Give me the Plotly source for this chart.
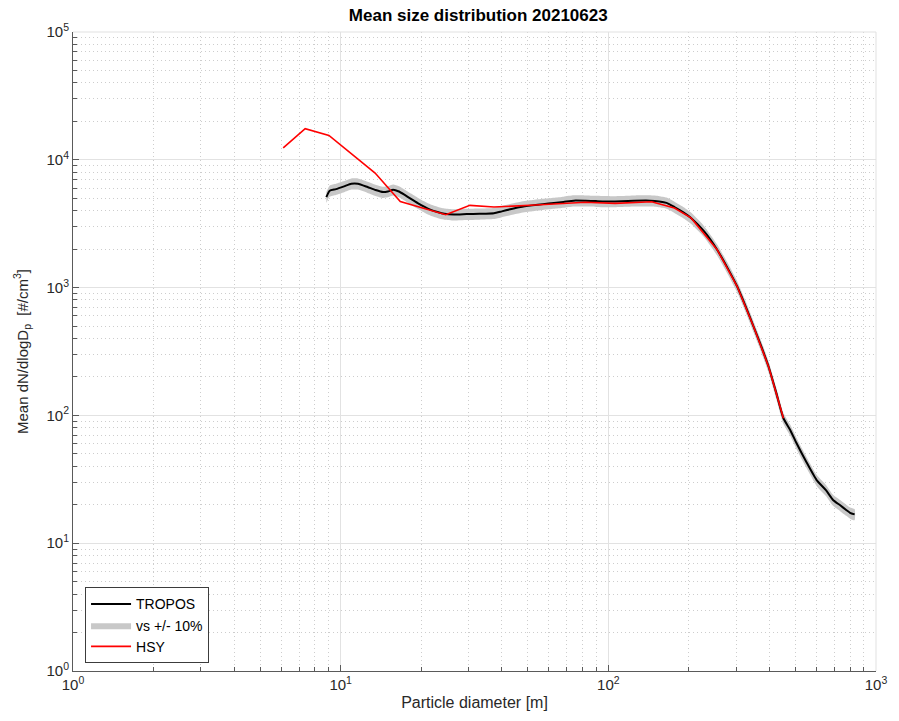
import plotly.graph_objects as go

# TROPOS mean size distribution
tropos_d = [8.84, 9.1, 9.6, 10.3, 10.96, 11.6, 12.6, 13.5, 14.4, 15.0, 15.7, 16.5, 17.3, 18.3,
            19.4, 20.5, 21.7, 23.0, 24.4, 26.5, 29.6, 33.0, 37.4, 40.0, 43.0, 47.0, 52.0, 57.0,
            62.6, 68.0, 74.3, 82.0, 90.0, 101.6, 112.0, 125.0, 143.0, 155.0, 165.0, 176.6,
            190.0, 203.7, 228.0, 255.0, 278.0, 303.0, 326.0, 349.0, 373.0, 397.0, 424.0,
            451.0, 478.0, 505.0, 550.0, 600.0, 650.0, 691.0, 735.0, 774.0, 800.0, 832.0]
tropos_n = [5100, 5730, 5900, 6200, 6500, 6500, 6120, 5800, 5590, 5650, 5830, 5650, 5330, 4950,
            4590, 4300, 4060, 3900, 3780, 3730, 3760, 3780, 3820, 3950, 4100, 4270, 4400, 4500,
            4590, 4680, 4790, 4780, 4750, 4720, 4740, 4780, 4790, 4720, 4600, 4270,
            3900, 3510, 2750, 1980, 1440, 1020, 710, 494, 345, 240, 150,
            95, 77, 60.5, 43, 31.2, 26, 21.8, 19.8, 18.2, 17.3, 16.8]

# HSY mean size distribution
hsy_d = [6.1, 7.37, 9.04, 13.45, 16.7, 24.7, 30.4, 37.4, 53.5, 82.0, 106.0, 145.0,
         176.6, 203.7, 255.0, 303.0, 349.0, 397.0, 451.0]
hsy_n = [12400, 17500, 15500, 7870, 4720, 3715, 4400, 4270, 4430, 4650, 4560, 4700,
         4200, 3510, 1980, 1020, 494, 240, 95]

band_frac = 0.10

x_ticks = [1, 10, 100, 1000]
x_ticktext = ["10<sup>0</sup>", "10<sup>1</sup>", "10<sup>2</sup>", "10<sup>3</sup>"]
y_ticks = [1, 10, 100, 1000, 10000, 100000]
y_ticktext = ["10<sup>0</sup>", "10<sup>1</sup>", "10<sup>2</sup>", "10<sup>3</sup>",
              "10<sup>4</sup>", "10<sup>5</sup>"]

FONT = "Liberation Sans, Arial, sans-serif"


def minor_vals(lo_exp, hi_exp):
    vals = []
    for e in range(lo_exp, hi_exp):
        for m in range(2, 10):
            vals.append(m * 10 ** e)
    return vals


upper = [v * (1 + band_frac) for v in tropos_n]
lower = [v * (1 - band_frac) for v in tropos_n]

fig = go.Figure()
fig.add_trace(go.Scatter(
    x=tropos_d + tropos_d[::-1], y=upper + lower[::-1],
    fill="toself", fillcolor="rgb(200,200,200)",
    line=dict(width=0, color="rgb(200,200,200)", shape="spline", smoothing=0.5),
    mode="lines", name="vs +/- 10%", legendrank=2, hoverinfo="skip"))
fig.add_trace(go.Scatter(
    x=tropos_d, y=tropos_n, mode="lines",
    line=dict(color="black", width=2, shape="spline", smoothing=0.5),
    name="TROPOS", legendrank=1))
fig.add_trace(go.Scatter(
    x=hsy_d, y=hsy_n, mode="lines", line=dict(color="rgb(255,0,0)", width=1.6),
    name="HSY", legendrank=3))

axis_common = dict(
    type="log", showline=True, linecolor="rgb(90,90,90)", linewidth=1,
    ticks="inside", ticklen=6, tickcolor="rgb(90,90,90)",
    showgrid=True, gridcolor="rgb(226,226,226)", gridwidth=1,
    zeroline=False, mirror=False,
    tickfont=dict(family=FONT, size=15, color="rgb(40,40,40)"),
)
minor_common = dict(tickmode="array", ticks="inside", ticklen=4,
                    tickcolor="rgb(90,90,90)", showgrid=True, gridcolor="rgb(205,205,205)",
                    griddash="1px,3px", gridwidth=1)

fig.update_xaxes(
    **axis_common,
    range=[0, 3], tickmode="array", tickvals=x_ticks, ticktext=x_ticktext,
    minor=dict(tickvals=minor_vals(0, 3), **minor_common),
    title=dict(text="Particle diameter [m]",
               font=dict(family=FONT, size=16, color="rgb(40,40,40)"), standoff=4),
)
fig.update_yaxes(
    **axis_common,
    range=[0, 5], tickmode="array", tickvals=y_ticks, ticktext=y_ticktext,
    minor=dict(tickvals=minor_vals(0, 5), **minor_common),
    title=dict(text="Mean dN/dlogD<sub>p</sub>  [#/cm<sup>3</sup>]",
               font=dict(family=FONT, size=15, color="rgb(40,40,40)"), standoff=14),
)

# light box on top and right
fig.add_shape(type="line", xref="paper", yref="paper", x0=0, x1=1, y0=1, y1=1,
              line=dict(color="rgb(225,225,225)", width=1))
fig.add_shape(type="line", xref="paper", yref="paper", x0=1, x1=1, y0=0, y1=1,
              line=dict(color="rgb(225,225,225)", width=1))

fig.update_layout(
    width=899, height=721,
    margin=dict(l=73, r=16, t=32, b=50),
    paper_bgcolor="white", plot_bgcolor="white",
    title=dict(text="<b>Mean size distribution 20210623</b>", x=0.532, xanchor="center",
               y=0.979, yanchor="middle",
               font=dict(family=FONT, size=17, color="black")),
    legend=dict(x=0.015, y=0.012, xanchor="left", yanchor="bottom",
                bgcolor="white", bordercolor="rgb(60,60,60)", borderwidth=1,
                font=dict(family=FONT, size=14, color="black"),
                tracegroupgap=0, itemwidth=40),
    showlegend=True,
)

fig.write_html("out.html")
